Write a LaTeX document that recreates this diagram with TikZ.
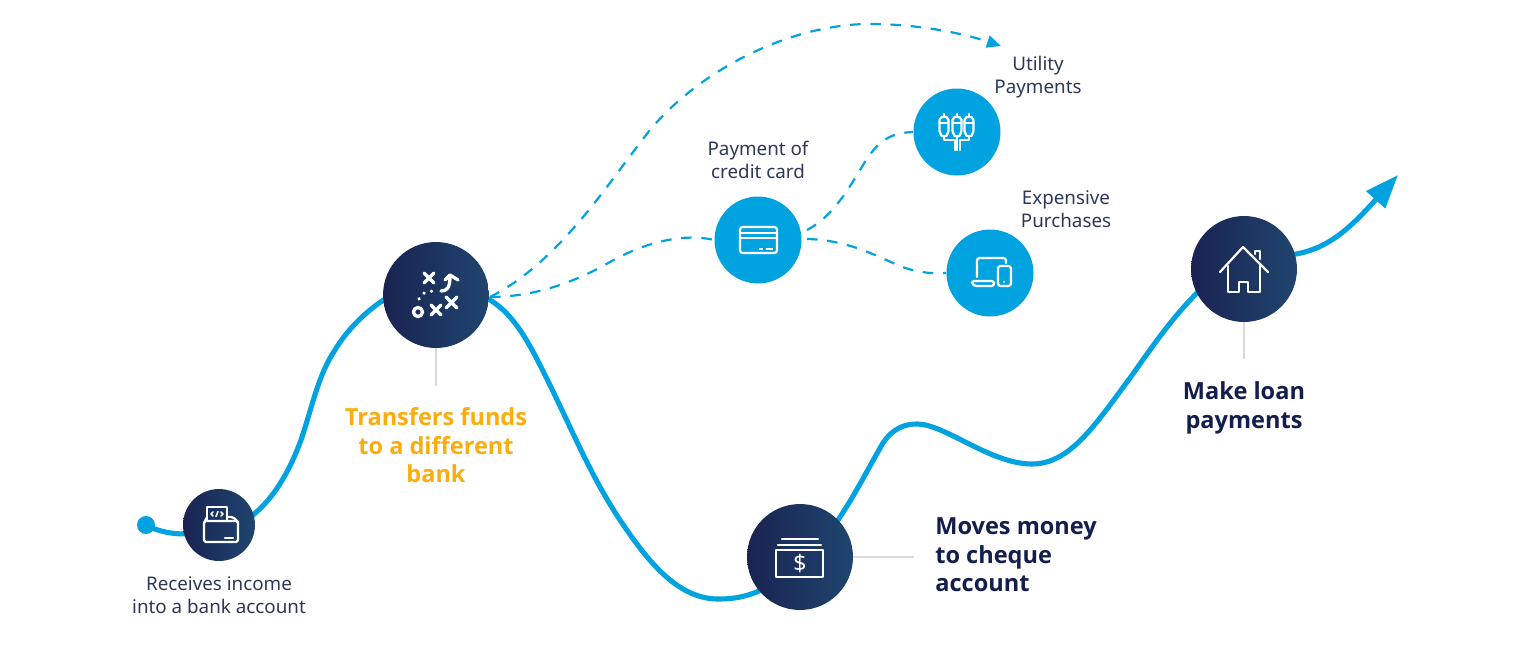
\documentclass[tikz,border=0pt]{standalone}
\usepackage{fontspec}
\setmainfont{Noto Sans}
\newfontfamily\bigfam{Open Sans}[BoldFont={Open Sans Bold}]
\usetikzlibrary{arrows.meta,backgrounds}
\definecolor{cyanline}{HTML}{00A3E0}
\definecolor{darkL}{HTML}{1A2350}
\definecolor{darkR}{HTML}{1F4570}
\definecolor{txt}{HTML}{2D3759}
\definecolor{boldtxt}{HTML}{141E4C}
\definecolor{orangetxt}{HTML}{FBAD0F}
\definecolor{stemgrey}{HTML}{D6D9E2}
\tikzset{
  px/.style={x=0.02cm,y=-0.02cm},
  darkdisc/.style={circle,inner sep=0pt,minimum size=#1*0.04cm,left color=darkL,right color=darkR,draw=none},
  bluedisc/.style={circle,inner sep=0pt,minimum size=87*0.02cm,fill=cyanline,draw=none},
  mainline/.style={draw=cyanline,line width=2.9pt,line cap=round},
  dashline/.style={draw=cyanline,line width=1.25pt,dash pattern=on 6pt off 5.5pt},
  stem/.style={draw=stemgrey,line width=0.8pt},
  icon/.style={draw=white,line width=1.25pt,line cap=round,line join=round},
  iconthick/.style={draw=white,line width=1.9pt,line cap=round,line join=round},
  small/.style={font=\fontsize{10.7}{13}\selectfont,text=txt,align=center,inner sep=0pt},
  big/.style={font=\bigfam\fontsize{13.4}{16.2}\selectfont\bfseries,text=boldtxt,inner sep=0pt},
}
\begin{document}
\begin{tikzpicture}[px]
\useasboundingbox (0,0) rectangle (1536,666);
% nodes
\node[circle,fill=cyanline,minimum size=18*0.02cm,inner sep=0pt] (start) at (146,525) {};
\node[darkdisc=36] (wallet) at (219,525) {};
\node[darkdisc=53] (transfer) at (436,295) {};
\node[darkdisc=53] (cheque) at (800,557) {};
\node[darkdisc=53] (house) at (1244,269) {};
\node[bluedisc] (card) at (758,240) {};
\node[bluedisc] (plug) at (957,132) {};
\node[bluedisc] (device) at (990,273) {};
\coordinate (tip) at (1398,175);
\coordinate (dashend) at (1001,46);
\coordinate (transferR) at (490,297);
\coordinate (cardNE) at (807,230);
\coordinate (cardE) at (807,239);
\coordinate (cheqE) at (853,557);
\coordinate (cheqLabel) at (914,557);
\coordinate (tS) at (436,386);
\coordinate (hS) at (1244,359);
% connectors
\begin{pgfonlayer}{background}
\draw[mainline] (start.center) .. controls (158,532) and (190,541) .. (wallet.center);
\draw[mainline] (wallet.center) .. controls (235,525) and (248,519) .. (253,515) .. controls (275,497) and (290,470) .. (301,440) .. controls (312,408) and (318,375) .. (335,350) .. controls (347,330) and (365,312) .. (385,299) .. controls (400,290) and (420,290) .. (transfer.center);
\draw[mainline] (transfer.center) .. controls (455,290) and (475,292) .. (490,300) .. controls (515,315) and (530,345) .. (545,375) .. controls (570,425) and (590,475) .. (620,520) .. controls (650,565) and (680,600) .. (720,599) .. controls (735,599) and (750,596) .. (765,588) .. controls (780,580) and (790,570) .. (cheque.center);
\draw[mainline] (cheque.center) .. controls (815,550) and (830,532) .. (838,520) .. controls (855,495) and (870,465) .. (883,443) .. controls (893,428) and (905,424) .. (917,424) .. controls (945,424) and (990,464) .. (1032,464) .. controls (1070,464) and (1095,425) .. (1130,378) .. controls (1150,350) and (1170,320) .. (1197,293) .. controls (1210,280) and (1230,270) .. (house.center);
\draw[mainline,-{Triangle[length=19pt,width=14pt]}] (house.center) .. controls (1265,265) and (1285,256) .. (1296,254) .. controls (1330,248) and (1352,226) .. (tip);
\draw[dashline,-{Triangle[length=8pt,width=7pt]}] (transferR) .. controls (560,262) and (610,180) .. (650,130) .. controls (700,70) and (790,24) .. (870,24) .. controls (920,24) and (965,34) .. (dashend);
\draw[dashline] (transferR) .. controls (530,297) and (570,285) .. (610,262) .. controls (640,245) and (680,232) .. (card.west);
\draw[dashline] (cardNE) .. controls (830,218) and (845,195) .. (860,170) .. controls (875,145) and (885,133) .. (plug.west);
\draw[dashline] (cardE) .. controls (850,240) and (880,258) .. (900,266) .. controls (915,272) and (930,274) .. (device.west);
\draw[stem] (transfer.south) -- (tS);
\draw[stem] (cheqE) -- (cheqLabel);
\draw[stem] (house.south) -- (hS);
\end{pgfonlayer}
% labels
\node[small] (l1) at (219,595) {Receives income\\into a bank account};
\node[big,text=orangetxt,align=center] (l2) at (436,445.5) {Transfers funds\\to a different\\bank};
\node[small] (l3) at (758,159.5) {Payment of\\credit card};
\node[small] (l4) at (1038,77) {Utility\\Payments};
\node[small] (l5) at (1066,209.5) {Expensive\\Purchases};
\node[big,align=left,anchor=west] (l6) at (935,555) {Moves money\\to cheque\\account};
\node[big,align=center] (l7) at (1244,408) {Make loan\\payments};
% wallet icon
\draw[icon,rounded corners=1pt] (204,521) rectangle (238,542);
\draw[icon] (207,520) -- (207,507) -- (227,507) -- (227,520);
\draw[icon,rounded corners=1pt] (227,517) -- (233,517) -- (238,522);
\draw[icon] (204,523) -- (207,517);
\draw[icon] (225,538) -- (233,538);
\draw[icon,line width=0.9pt] (213,512) -- (211,514) -- (213,516) (221,512) -- (223,514) -- (221,516) (218,511.5) -- (216,516.5);
% transfer icon
\draw[iconthick] (424,273) -- (434,283) (434,273) -- (424,283);
\draw[iconthick] (431,305) -- (441,315) (441,305) -- (431,315);
\draw[iconthick] (446,297) -- (457,308) (457,297) -- (446,308);
\draw[iconthick] (418,312) circle (4.5);
\draw[iconthick] (441,291) .. controls (447,291) and (450,288) .. (450,276);
\draw[iconthick] (445,280) -- (450,275) -- (458,280);
\draw[iconthick,dash pattern=on 0.2pt off 4.2pt] (419,299) .. controls (421,293) and (426,291) .. (437,291);
% card icon
\draw[icon,rounded corners=1.5pt] (740,227) rectangle (777,253);
\draw[icon] (740,233) -- (777,233) (740,238) -- (777,238);
\draw[icon,line width=1.4pt,line cap=butt] (759,249) -- (763,249) (766,249) -- (773,249);
% plug icon
\foreach \px in {944,957,969}{
  \draw[icon] (\px-4.5,120) -- (\px-4.5,131) -- (\px-2.5,136) -- (\px+2.5,136) -- (\px+4.5,131) -- (\px+4.5,120) -- (\px+2.5,117) -- (\px-2.5,117) -- cycle;
  \draw[icon] (\px-4.5,123) -- (\px+4.5,123) (\px,117) -- (\px,114);
}
\draw[icon] (944,136) -- (944,140) -- (955,140) -- (955,150) (957,136) -- (957,150) (969,136) -- (969,140) -- (960,140) -- (960,150);
% device icon
\draw[icon,rounded corners=1.5pt] (977,277) -- (977,258) -- (1006,258) -- (1006,263);
\draw[icon,rounded corners=1pt] (972,281) -- (994,281) -- (994,286) -- (975,286) -- (972,284) -- cycle;
\draw[icon,rounded corners=1.5pt] (998,266) rectangle (1011,286);
\fill[white] (1004,282) circle (1);
% cheque icon
\draw[icon,line width=1.3pt,line cap=butt] (776,550) rectangle (823,577);
\draw[icon,line width=1.3pt] (778,545) -- (821,545) (782,539) -- (818,539);
\node[text=white,font=\fontsize{13}{13}\selectfont,inner sep=0pt] (dollar) at (800,563) {\$};
% house icon
\draw[icon] (1220,272) -- (1243,247) -- (1268,272);
\draw[icon] (1255,254) -- (1255,251) -- (1260,251) -- (1260,259);
\draw[icon] (1228,266) -- (1228,292) -- (1239,292) -- (1239,282) -- (1248,282) -- (1248,292) -- (1260,292) -- (1260,266);
\end{tikzpicture}
\end{document}
